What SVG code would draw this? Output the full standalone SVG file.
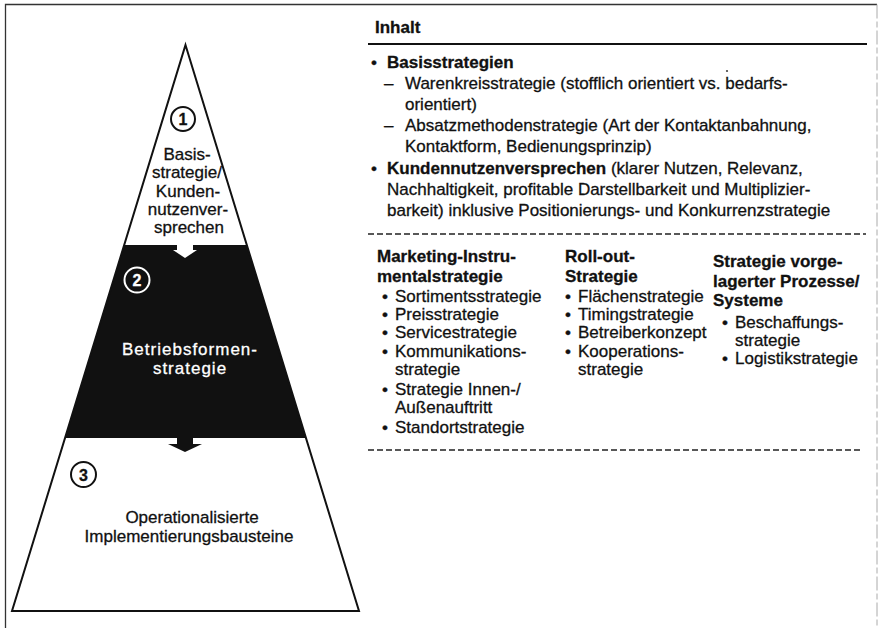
<svg xmlns="http://www.w3.org/2000/svg" width="883" height="628" viewBox="0 0 883 628">
<style>
text{font-family:"Liberation Sans",Arial,sans-serif;font-size:17px;fill:#111;stroke:#111;stroke-width:0.3}
.b{font-weight:bold}
.c{text-anchor:middle}
.w{fill:#fff;stroke:#fff}
.edge{stroke:#111;stroke-width:2;fill:none}
.dash{stroke:#222;stroke-width:1.6;stroke-dasharray:6 3;fill:none}
.num{font-size:16px;font-weight:bold;text-anchor:middle}
</style>
<rect width="883" height="628" fill="#fff"/>
<g id="frame">
<path d="M5.5 628V4.5H877" stroke="#333" stroke-width="1.3" fill="none"/>
<path d="M877 4.5V628" stroke="#aaa" stroke-width="1" stroke-dasharray="14 3 6 3" fill="none"/>
</g>
<g id="tier1">
<polygon points="185.5,45 246.8,245 124.2,245" fill="#fff"/>
<circle cx="183" cy="119" r="12" fill="none" stroke="#111" stroke-width="2"/>
<text class="num" x="183" y="125">1</text>
<text class="c" x="187" y="160">Basis-</text>
<text class="c" x="187" y="178">strategie/</text>
<text class="c" x="188" y="197">Kunden-</text>
<text class="c" x="188" y="215">nutzenver-</text>
<text class="c" x="189" y="233">sprechen</text>
</g>
<g id="tier2">
<polygon points="124.2,245 246.8,245 306,438 65,438" fill="#111"/>
<circle cx="137" cy="280" r="12.5" fill="none" stroke="#fff" stroke-width="2"/>
<text class="num w" x="137" y="286">2</text>
<text class="c w" x="190" y="355" letter-spacing="1">Betriebsformen-</text>
<text class="c w" x="190" y="374" letter-spacing="1">strategie</text>
</g>
<g id="tier3">
<circle cx="83.5" cy="474.5" r="12.5" fill="none" stroke="#111" stroke-width="2"/>
<text class="num" x="83.5" y="480.5">3</text>
<text class="c" x="192" y="523">Operationalisierte</text>
<text class="c" x="189" y="542">Implementierungsbausteine</text>
</g>
<polygon id="pyramid-outline" class="edge" points="185.5,45 359,611 12,611"/>
<g id="connectors">
<polygon points="177,245 193,245 193,250 197,250 185,258 173,250 177,250" fill="#fff"/>
<polygon points="177,438 193,438 193,444 202,444 185,452 168,444 177,444" fill="#111"/>
</g>
<g id="content">
<text class="b" x="375" y="33">Inhalt</text>
<line x1="368" y1="44" x2="867" y2="44" stroke="#111" stroke-width="2"/>
<text x="371" y="68">•</text><text class="b" x="387" y="68">Basisstrategien</text>
<text x="384" y="89">–</text><text x="405" y="89">Warenkreisstrategie (stofflich orientiert vs. bedarfs-</text>
<text x="405" y="110">orientiert)</text>
<text x="384" y="131">–</text><text x="405" y="131">Absatzmethodenstrategie (Art der Kontaktanbahnung,</text>
<text x="405" y="152">Kontaktform, Bedienungsprinzip)</text>
<text x="371" y="174">•</text><text x="387" y="174"><tspan class="b">Kundennutzenversprechen</tspan> (klarer Nutzen, Relevanz,</text>
<text x="387" y="195">Nachhaltigkeit, profitable Darstellbarkeit und Multiplizier-</text>
<text x="387" y="216">barkeit) inklusive Positionierungs- und Konkurrenzstrategie</text>
<circle cx="727" cy="71" r="1.1" fill="#444"/>
<line class="dash" x1="368" y1="234" x2="866" y2="234"/>
<g id="col1">
<text class="b" x="377" y="262">Marketing-Instru-</text>
<text class="b" x="377" y="282">mentalstrategie</text>
<text x="382" y="302">•</text><text x="395" y="302">Sortimentsstrategie</text>
<text x="382" y="320">•</text><text x="395" y="320">Preisstrategie</text>
<text x="382" y="338">•</text><text x="395" y="338">Servicestrategie</text>
<text x="382" y="357">•</text><text x="395" y="357">Kommunikations-</text>
<text x="395" y="375">strategie</text>
<text x="382" y="395">•</text><text x="395" y="395">Strategie Innen-/</text>
<text x="395" y="413">Außenauftritt</text>
<text x="382" y="433">•</text><text x="395" y="433">Standortstrategie</text>
</g>
<g id="col2">
<text class="b" x="565" y="262">Roll-out-</text>
<text class="b" x="565" y="282">Strategie</text>
<text x="565" y="302">•</text><text x="578" y="302">Flächenstrategie</text>
<text x="565" y="320">•</text><text x="578" y="320">Timingstrategie</text>
<text x="565" y="338">•</text><text x="578" y="338">Betreiberkonzept</text>
<text x="565" y="357">•</text><text x="578" y="357">Kooperations-</text>
<text x="578" y="375">strategie</text>
</g>
<g id="col3">
<text class="b" x="713" y="267">Strategie vorge-</text>
<text class="b" x="713" y="287">lagerter Prozesse/</text>
<text class="b" x="713" y="306">Systeme</text>
<text x="722" y="328">•</text><text x="735" y="328">Beschaffungs-</text>
<text x="735" y="346">strategie</text>
<text x="722" y="364">•</text><text x="735" y="364">Logistikstrategie</text>
</g>
<line class="dash" x1="368" y1="450" x2="862" y2="450"/>
</g>
</svg>
